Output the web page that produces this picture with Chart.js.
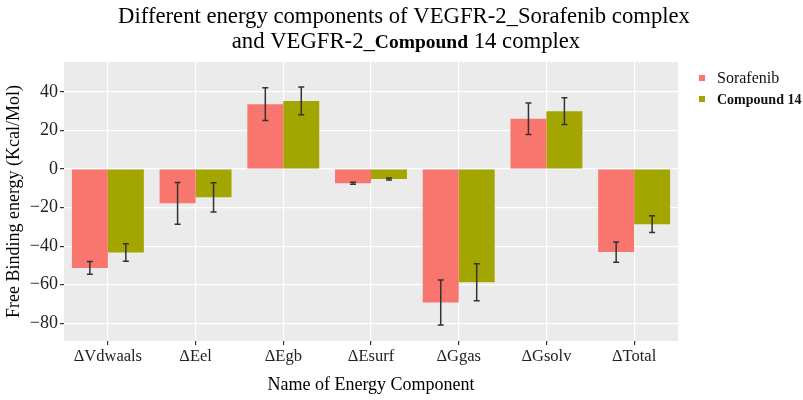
<!DOCTYPE html>
<html>
<head>
<meta charset="utf-8">
<script src="https://cdn.jsdelivr.net/npm/chart.js@4.4.1/dist/chart.umd.min.js"></script>
<style>
    html, body { margin: 0; padding: 0; background: #fff; }
    #wrap { width: 803px; height: 400px; position: relative; }
</style>
</head>
<body>
<div id="wrap"><canvas id="energyChart"></canvas></div>
<script>
const categories = ["ΔVdwaals", "ΔEel", "ΔEgb", "ΔEsurf", "ΔGgas", "ΔGsolv", "ΔTotal"];
const sorafenib = [-51.3, -17.8, 33.6, -7.4, -69.2, 26.1, -43.1];
const sorafenibSd = [3.3, 10.8, 8.5, 0.5, 11.7, 8.2, 5.2];
const compound14 = [-43.3, -14.7, 35.3, -5.2, -58.7, 30.0, -28.6];
const compound14Sd = [4.6, 7.6, 7.2, 0.5, 9.6, 6.9, 4.3];
const yTicks = [-80, -60, -40, -20, 0, 20, 40];

const SERIF = "'Liberation Serif', 'DejaVu Serif', serif";
const RED = "#F8766D";
const OLIVE = "#A3A500";

Chart.defaults.font.family = SERIF;

/* grey panel like ggplot */
const panelBg = {
    id: "panelBg",
    beforeDraw(chart) {
        const { ctx, chartArea: a } = chart;
        ctx.save();
        ctx.fillStyle = "#fff";
        ctx.fillRect(0, 0, chart.width, chart.height);
        ctx.fillStyle = "#EBEBEB";
        ctx.fillRect(a.left, a.top, a.right - a.left, a.bottom - a.top);
        ctx.restore();
    }
};

/* error bars from the sd arrays */
const errorBars = {
    id: "errorBars",
    afterDatasetsDraw(chart) {
        const { ctx } = chart;
        const y = chart.scales.y;
        ctx.save();
        ctx.strokeStyle = "#333";
        ctx.lineWidth = 1.5;
        chart.data.datasets.forEach((ds, i) => {
            const meta = chart.getDatasetMeta(i);
            meta.data.forEach((bar, j) => {
                const v = ds.data[j], sd = ds.sd[j];
                const y1 = y.getPixelForValue(v - sd);
                const y2 = y.getPixelForValue(v + sd);
                const x = bar.x;
                ctx.beginPath();
                ctx.moveTo(x, y1); ctx.lineTo(x, y2);
                ctx.moveTo(x - 3, y1); ctx.lineTo(x + 3, y1);
                ctx.moveTo(x - 3, y2); ctx.lineTo(x + 3, y2);
                ctx.stroke();
            });
        });
        ctx.restore();
    }
};

/* helper: draw a run of [text, font] pieces centred on cx */
function drawRuns(ctx, runs, cx, baseline) {
    let total = 0;
    runs.forEach(r => { ctx.font = r[1]; total += ctx.measureText(r[0]).width; });
    let x = cx - total / 2;
    runs.forEach(r => {
        ctx.font = r[1];
        ctx.fillText(r[0], x, baseline);
        x += ctx.measureText(r[0]).width;
    });
}

/* title + legend (mixed bold text) */
const textLayer = {
    id: "textLayer",
    afterDraw(chart) {
        const { ctx } = chart;
        ctx.save();
        ctx.fillStyle = "#000";
        ctx.textBaseline = "alphabetic";
        ctx.textAlign = "left";
        const normal = "22.7px " + SERIF;
        drawRuns(ctx, [["Different energy components of VEGFR-2_Sorafenib complex", normal]], 404, 23);
        drawRuns(ctx, [
            ["and VEGFR-2_", normal],
            ["Compound", "bold 19.5px " + SERIF],
            [" 14 complex", normal]
        ], 406, 48);

        // legend
        const items = [
            { label: "Sorafenib", color: RED, font: "16px " + SERIF, y: 83 },
            { label: "Compound 14", color: OLIVE, font: "bold 14px " + SERIF, y: 104 }
        ];
        items.forEach(it => {
            ctx.fillStyle = it.color;
            ctx.fillRect(699, it.y - 8, 6, 6);
            ctx.fillStyle = "#111";
            ctx.font = it.font;
            ctx.fillText(it.label, 717, it.y);
        });
        ctx.restore();
    }
};

new Chart(document.getElementById("energyChart"), {
    type: "bar",
    data: {
        labels: categories,
        datasets: [
            { label: "Sorafenib", data: sorafenib, sd: sorafenibSd, backgroundColor: RED },
            { label: "Compound 14", data: compound14, sd: compound14Sd, backgroundColor: OLIVE }
        ]
    },
    options: {
        responsive: true,
        maintainAspectRatio: false,
        animation: false,
        layout: { padding: { top: 62, right: 125, left: 0, bottom: 0 } },
        datasets: { bar: { categoryPercentage: 0.82, barPercentage: 1 } },
        plugins: {
            legend: { display: false },
            title: { display: false },
            tooltip: { enabled: false }
        },
        scales: {
            x: {
                offset: true,
                grid: { offset: false, color: "#fff", lineWidth: 1.2, tickColor: "#333", tickLength: 4 },
                border: { display: false },
                ticks: { color: "#222", font: { size: 16.5 }, padding: 2, maxRotation: 0 },
                title: {
                    display: true, text: "Name of Energy Component", color: "#000",
                    font: { size: 18 }, padding: { top: 0, bottom: 4 }
                },
                afterFit(s) { s.height = 59; }
            },
            y: {
                min: -89.2,
                max: 55.5,
                afterBuildTicks(s) { s.ticks = yTicks.map(v => ({ value: v })); },
                grid: { color: "#fff", lineWidth: 1.2, tickColor: "#333", tickLength: 4 },
                border: { display: false },
                ticks: {
                    color: "#222", font: { size: 18 }, padding: 2,
                    callback: v => (v < 0 ? "\u2212" + Math.abs(v) : String(v))
                },
                title: {
                    display: true, text: "Free Binding energy (Kcal/Mol)", color: "#000",
                    font: { size: 18 }, padding: { top: 3, bottom: 0 }
                },
                afterFit(s) { s.width = 64; }
            }
        }
    },
    plugins: [panelBg, errorBars, textLayer]
});
</script>
</body>
</html>
